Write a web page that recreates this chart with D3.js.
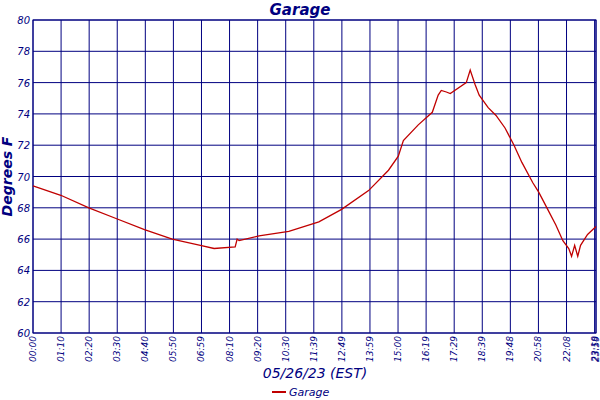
<!DOCTYPE html>
<html><head><meta charset="utf-8">
<script src="https://cdn.jsdelivr.net/npm/d3@7"></script>
<style>body{margin:0;background:#fff}text{font-family:"DejaVu Sans",sans-serif;font-style:italic;fill:#000080}</style>
</head><body><svg id="c" width="600" height="400"></svg>
<script>
const tickLabels=["00:00","01:10","02:20","03:30","04:40","05:50","06:59","08:10","09:20","10:30","11:39","12:49","13:59","15:00","16:19","17:29","18:39","19:48","20:58","22:08","23:18","23:59"];
const tickPos=[0,1,2,3,4,5,6,7,8,9,10,11,12,13,14,15,16,17,18,19,20,20.05];
const yTicks=[60,62,64,66,68,70,72,74,76,78,80];
const samplePos=[0,0.99,1.99,2.98,3.97,4.96,5.96,6.45,7.2,7.27,7.34,8.05,9.11,10.18,10.99,11.95,12.66,13.01,13.19,13.72,14.22,14.43,14.54,14.72,14.86,15.43,15.57,15.74,15.89,16.21,16.49,16.81,17.13,17.41,17.8,18.01,18.33,18.62,18.87,19.08,19.18,19.29,19.4,19.5,19.75,20.05];
const temps=[69.4,68.8,68.0,67.3,66.6,66.0,65.6,65.4,65.5,66.0,65.9,66.2,66.5,67.1,67.9,69.1,70.4,71.3,72.3,73.3,74.1,75.2,75.5,75.4,75.3,76.0,76.8,75.9,75.2,74.4,73.9,73.1,72.0,70.9,69.6,69.0,67.9,66.9,65.9,65.4,64.9,65.6,64.9,65.6,66.3,66.8];
const svg=d3.select("#c");
const L=33,R=596,T=20,B=333;
const x=d3.scaleLinear().domain([0,20.05]).range([L,R]);
const y=d3.scaleLinear().domain([60,80]).range([B,T]);
const g=svg.append("g");
g.selectAll(".v").data(tickPos).join("line").attr("x1",d=>x(d)).attr("x2",d=>x(d)).attr("y1",T).attr("y2",B).attr("stroke","#000080").attr("stroke-width",1);
g.selectAll(".h").data(yTicks).join("line").attr("x1",L).attr("x2",R).attr("y1",d=>y(d)).attr("y2",d=>y(d)).attr("stroke","#000080").attr("stroke-width",1);
svg.append("rect").attr("x",L).attr("y",T).attr("width",R-L).attr("height",B-T).attr("fill","none").attr("stroke","#000080");
svg.selectAll(".yl").data(yTicks).join("text").attr("x",L-3).attr("y",d=>y(d)+4).attr("text-anchor","end").attr("font-size",10).text(d=>d);
svg.selectAll(".xl").data(tickLabels).join("text").attr("transform",(d,i)=>`translate(${x(tickPos[i])+3},${B+3}) rotate(-90)`).attr("text-anchor","end").attr("font-size",9).text(d=>d);
const pts=samplePos.map((p,i)=>[p,temps[i]]);
svg.append("path").datum(pts).attr("d",d3.line().x(d=>x(d[0])).y(d=>y(d[1]))).attr("fill","none").attr("stroke","#c00000").attr("stroke-width",1.3);
svg.append("text").attr("x",300).attr("y",15).attr("text-anchor","middle").attr("font-size",15).attr("font-weight","bold").text("Garage");
svg.append("text").attr("x",315).attr("y",378).attr("text-anchor","middle").attr("font-size",14).text("05/26/23 (EST)");
svg.append("text").attr("transform",`translate(12,${(T+B)/2}) rotate(-90)`).attr("text-anchor","middle").attr("font-size",14).attr("font-weight","bold").text("Degrees F");
svg.append("line").attr("x1",272).attr("x2",286).attr("y1",392).attr("y2",392).attr("stroke","#c00000").attr("stroke-width",2);
svg.append("text").attr("x",289).attr("y",396).attr("font-size",11).text("Garage");
</script></body></html>
